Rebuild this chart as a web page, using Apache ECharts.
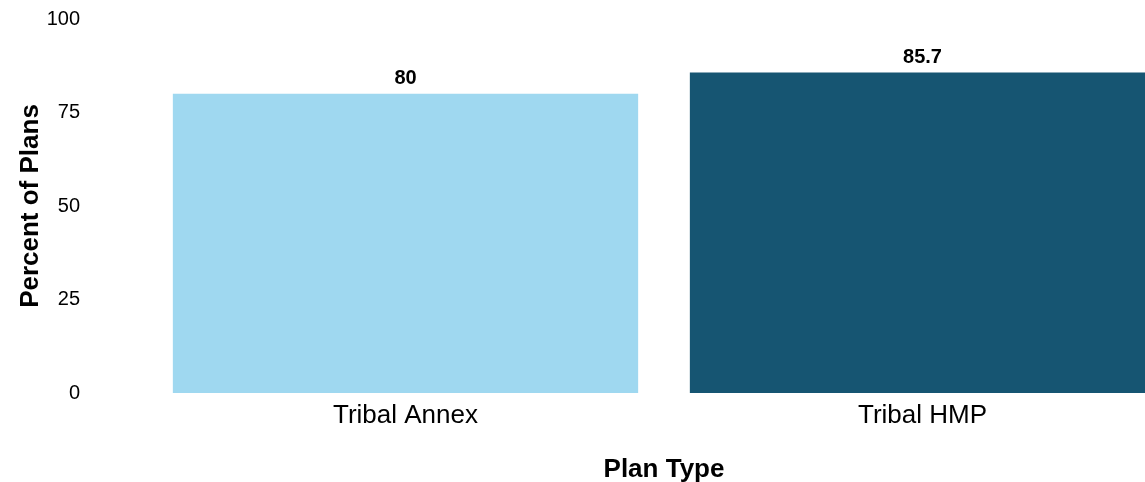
<!DOCTYPE html>
<html>
<head>
<meta charset="utf-8">
<script src="https://cdn.jsdelivr.net/npm/echarts@6/dist/echarts.min.js"></script>
<style>html,body{margin:0;padding:0;background:#fff;overflow:hidden;width:1145px;height:482px;}#c{width:1181px;height:482px;}</style>
</head>
<body>
<div id="c"></div>
<script>
const categories = ["Tribal Annex", "Tribal HMP"];
const values = [80, 85.7];
const colors = ["#9fd8f0", "#165572"];
const yTicks = [0, 25, 50, 75, 100];

const chart = echarts.init(document.getElementById('c'), null, {renderer: 'canvas'});
chart.setOption({
  animation: false,
  backgroundColor: '#ffffff',
  grid: {left: 147, right: 0, top: 19, bottom: 89, containLabel: false, outerBoundsMode: 'none'},
  xAxis: {
    type: 'category',
    data: categories,
    name: 'Plan Type',
    nameLocation: 'middle',
    nameGap: 64,
    nameMoveOverlap: false,
    nameTextStyle: {fontFamily: 'Liberation Sans', fontWeight: 'bold', fontSize: 26, color: '#000'},
    axisLine: {show: false},
    axisTick: {show: false},
    axisLabel: {fontFamily: 'Liberation Sans', fontSize: 26, color: '#000', margin: 10}
  },
  yAxis: {
    type: 'value',
    min: 0, max: 100, interval: 25,
    name: 'Percent of Plans',
    nameLocation: 'middle',
    nameGap: 103,
    nameMoveOverlap: false,
    nameTextStyle: {fontFamily: 'Liberation Sans', fontWeight: 'bold', fontSize: 26, color: '#000'},
    axisLine: {show: false},
    axisTick: {show: false},
    splitLine: {show: false},
    axisLabel: {fontFamily: 'Liberation Sans', fontSize: 20, color: '#000', margin: 67,
      formatter: v => yTicks.includes(v) ? String(v) : ''}
  },
  series: [{
    type: 'bar',
    data: values.map((v, i) => ({value: v, itemStyle: {color: colors[i]}})),
    barWidth: '90%',
    label: {show: true, position: 'top', distance: 5, fontFamily: 'Liberation Sans', fontWeight: 'bold', fontSize: 20, color: '#000'}
  }]
});
</script>
</body>
</html>
